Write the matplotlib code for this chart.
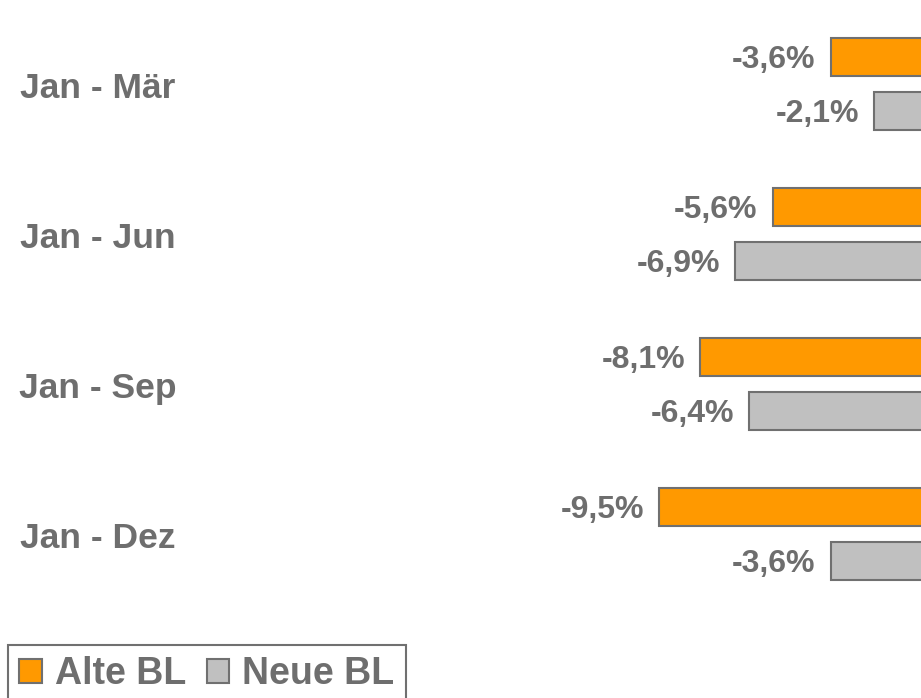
import matplotlib.pyplot as plt
from matplotlib.patches import Patch
import numpy as np

# data
categories = ['Jan - Mär', 'Jan - Jun', 'Jan - Sep', 'Jan - Dez']
alte_bl = [-3.6, -5.6, -8.1, -9.5]
neue_bl = [-2.1, -6.9, -6.4, -3.6]
series_names = ['Alte BL', 'Neue BL']

orange = '#FF9900'
grey = '#C0C0C0'
edge = '#707070'
txt = '#6E6E6E'

plt.rcParams['font.family'] = ['Liberation Sans', 'DejaVu Sans']

fig = plt.figure(figsize=(9.21, 6.98), dpi=100)
ax = fig.add_axes([0, 0, 1, 1])

y = np.arange(len(categories))
off = 0.18
h = 0.253

b1 = ax.barh(y - off, alte_bl, height=h, color=orange, edgecolor=edge, linewidth=1.5)
b2 = ax.barh(y + off, neue_bl, height=h, color=grey, edgecolor=edge, linewidth=1.5)

# value labels left of bars
for bars in (b1, b2):
    for b in bars:
        v = b.get_width()
        ax.annotate(f'{v:.1f}%'.replace('.', ','), (v, b.get_y() + b.get_height() / 2),
                    xytext=(-15, -3), textcoords='offset pixels',
                    ha='right', va='center', fontsize=23, fontweight='bold', color=txt)

# category labels on the left
for i, c in enumerate(categories):
    ax.text(98 / 921, i + 0.03, c, transform=ax.get_yaxis_transform(),
            ha='center', va='center', fontsize=25.5, fontweight='bold', color=txt)

ax.set_xlim(-32.24, -0.48)
ax.set_ylim(4.093, -0.56)
ax.axis('off')

handles = [Patch(facecolor=orange, edgecolor=edge, linewidth=1.5),
           Patch(facecolor=grey, edgecolor=edge, linewidth=1.5)]
leg = fig.legend(handles, series_names, loc='upper left',
                 bbox_to_anchor=(8 / 921, 1 - 645 / 698), ncol=2,
                 fancybox=False, edgecolor=edge, framealpha=1,
                 prop={'size': 27, 'weight': 'bold'},
                 handlelength=0.6, handleheight=0.6, handletextpad=0.35,
                 columnspacing=0.55, borderpad=0.3, borderaxespad=0)
leg.get_frame().set_linewidth(1.5)
for t in leg.get_texts():
    t.set_color(txt)

fig.savefig('out.png', dpi=100)
